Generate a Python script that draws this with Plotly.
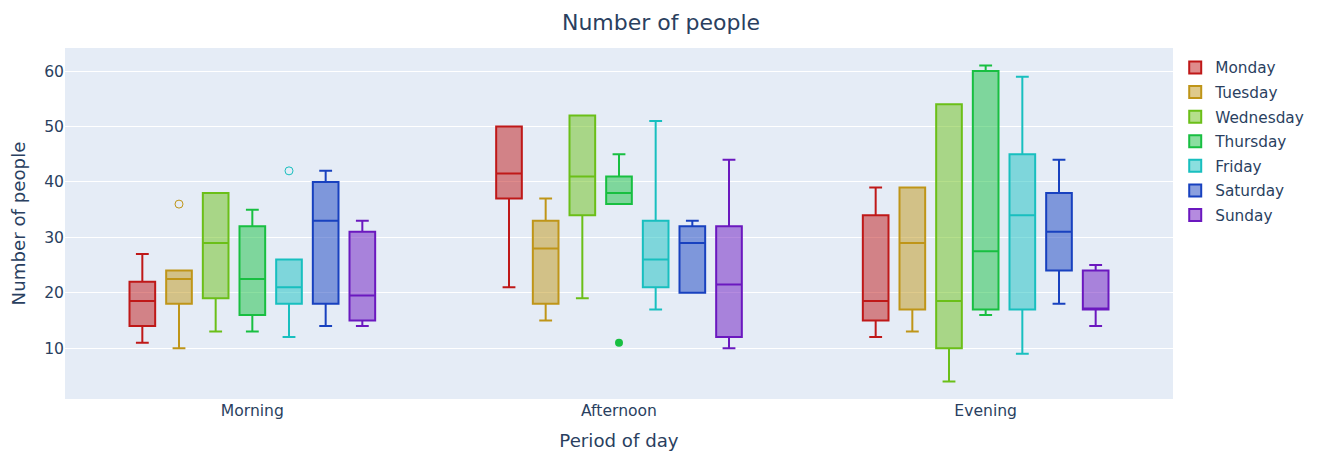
import plotly.graph_objects as go

periods = ["Morning", "Afternoon", "Evening"]
days = ["Monday", "Tuesday", "Wednesday", "Thursday", "Friday", "Saturday", "Sunday"]

# Counts of people per period (Morning, Afternoon, Evening) for each day
monday = [[11, 14, 17, 20, 22, 27], [21, 37, 40, 43, 50, 50], [12, 15, 17, 20, 34, 39]]
tuesday = [[10, 18, 21, 24, 24, 36], [15, 18, 26, 30, 33, 37], [13, 17, 27, 31, 39, 39]]
wednesday = [[13, 19, 27, 31, 38, 38], [19, 34, 40, 42, 52, 52], [4, 10, 17, 20, 54, 54]]
thursday = [[13, 16, 20, 25, 32, 35], [11, 36, 37, 39, 41, 45], [16, 17, 25, 30, 60, 61]]
friday = [[12, 18, 20, 22, 26, 42], [17, 21, 25, 27, 33, 51], [9, 17, 32, 36, 45, 59]]
saturday = [[14, 18, 30, 36, 40, 42], [20, 20, 28, 30, 32, 33], [18, 24, 29, 33, 38, 44]]
sunday = [[14, 15, 18, 21, 31, 33], [10, 12, 20, 23, 32, 44], [14, 17, 17, 17, 24, 25]]

day_values = [monday, tuesday, wednesday, thursday, friday, saturday, sunday]
hues = [0, 45, 90, 135, 180, 225, 270]

fig = go.Figure()
for day, vals, h in zip(days, day_values, hues):
    xs, ys = [], []
    for p, v in zip(periods, vals):
        xs += [p] * len(v)
        ys += v
    fig.add_trace(go.Box(
        x=xs, y=ys, name=day, legendgroup=day,
        boxpoints="suspectedoutliers",
        marker=dict(color=f"hsl({h},78%,42%)", size=8),
        line=dict(color=f"hsl({h},78%,42%)", width=2),
    ))

# page body has an 8px margin, so the figure is drawn 8px in from the window edge
W, H = 1314, 446
fig.update_layout(
    template="plotly",
    boxmode="group",
    width=W, height=H,
    margin=dict(l=57, r=149, t=40, b=55),
    font=dict(family="DejaVu Sans", size=15.6, color="#2a3f5f"),
    title=dict(text="Number of people", x=653 / W, xanchor="center",
               y=1 - 14 / H, yanchor="middle", font=dict(size=22)),
    xaxis=dict(title=dict(text="Period of day", font=dict(size=18.2)), automargin=False),
    yaxis=dict(title=dict(text="Number of people", font=dict(size=18.2)), automargin=False,
               dtick=10),
    legend=dict(x=1.002, y=1 - 3 / 351, yanchor="top", font=dict(size=15.3),
                tracegroupgap=1.7, traceorder="grouped"),
)

fig.write_html("out.html")
